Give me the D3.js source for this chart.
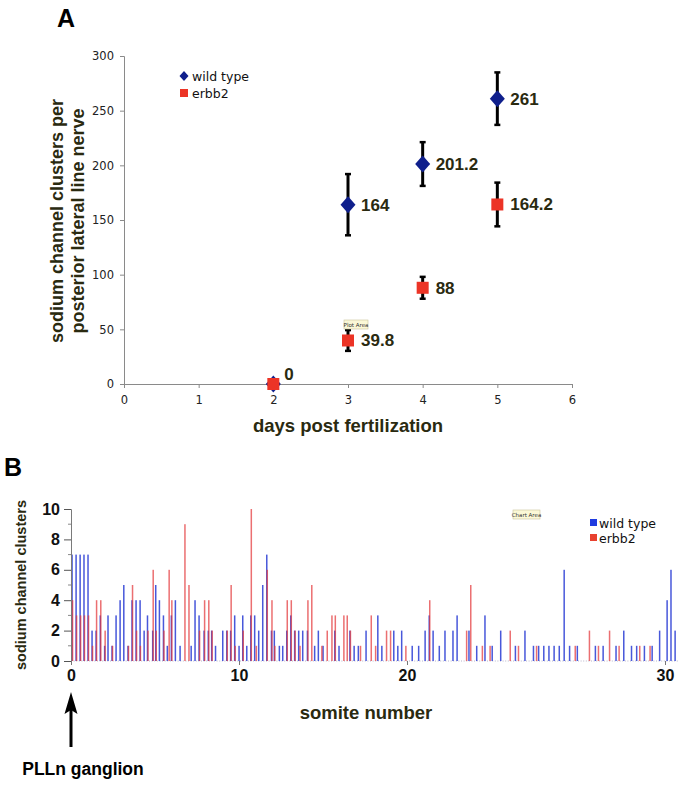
<!DOCTYPE html>
<html><head><meta charset="utf-8">
<script src="https://cdn.jsdelivr.net/npm/d3@7/dist/d3.min.js"></script>
<style>body{margin:0;background:#fff}</style>
</head><body>
<svg id="c" width="685" height="785"></svg>
<script>
// ---------- Panel A data ----------
const days = [2, 3, 4, 5];
const wildTypeMean = [0, 164, 201.2, 261];
const wildTypeErr = [0, 28, 20, 24];
const erbb2Mean = [0, 39.8, 88, 164.2];
const erbb2Err = [0, 9.5, 10, 20];
const xTicksA = [0, 1, 2, 3, 4, 5, 6];
const yTicksA = [0, 50, 100, 150, 200, 250, 300];

// ---------- Panel B data ----------
const wtSomite = [0.06,0.30,0.54,0.77,1.01,1.25,1.49,1.74,2.0,2.2,2.44,2.68,2.92,3.14,3.39,3.63,3.87,4.11,4.35,4.55,4.86,5.04,5.26,5.5,5.73,5.97,6.21,6.49,7.15,7.38,7.62,7.92,8.17,8.37,8.6,9.03,9.27,9.5,9.74,10.0,10.22,10.46,10.7,10.93,11.17,11.41,11.65,11.93,12.1,12.4,12.6,12.84,13.08,13.31,13.55,13.79,14.07,14.5,14.72,15.0,15.7,15.95,16.6,16.85,17.1,17.56,18.26,18.5,19.21,19.45,19.68,20.2,20.45,20.7,20.86,21.01,21.25,21.47,21.78,21.94,22.4,22.7,23.02,23.3,23.63,24.2,24.57,24.9,25.1,25.3,25.5,25.7,25.9,26.09,26.3,26.6,27.3,27.6,28.1,28.4,28.7,28.9,29.2,29.5,29.79,30.08,30.23,30.39];
const wtCount = [7,7,7,7,7,2,2,3,1,3,1,3,4,5,1,4,4,4,2,3,2,5,4,3,1,3,4,1,1,4,3,2,2,2,1,2,2,2,3,1,3,1,3,3,2,5,7,2,2,1,1,2,3,2,2,2,2,1,2,1,2,1,2,1,1,2,3,1,2,1,2,1,1,2,3,2,1,2,2,3,2,1,3,1,2,1,2,1,1,1,1,1,1,6,1,1,1,1,1,2,1,1,1,1,2,4,6,2];
const erSomite = [0.06,0.30,0.54,0.77,1.01,1.25,1.49,1.74,2.0,2.44,3.39,3.63,3.87,4.1,4.55,4.86,5.04,5.5,5.81,5.97,6.75,6.99,7.62,7.92,8.17,8.37,9.27,9.5,9.74,10.22,10.7,11.0,11.65,11.93,12.1,12.84,13.08,13.31,13.6,14.07,14.3,14.9,15.22,15.5,15.7,16.21,16.41,16.6,17.2,17.84,18.1,18.75,18.99,19.9,20.86,22.29,22.45,22.9,23.2,23.98,24.3,25.0,26.5,27.05,27.4,27.83,28.2,29.0,29.4];
const erCount = [4,3,3,3,3,1,4,4,2,1,1,5,2,1,2,6,2,2,6,4,9,5,2,4,4,2,2,5,1,2,10,1,6,4,1,4,4,2,1,4,5,1,2,3,3,3,3,2,1,3,1,2,2,1,4,2,5,1,1,2,1,1,1,2,1,2,1,1,1];
const xTicksB = [0, 10, 20, 30];
const yTicksB = [0, 2, 4, 6, 8, 10];
const yMinorB = [1, 3, 5, 7, 9];

const svg = d3.select('#c');
const olive = '#2a2a10';
const navy = '#0f1f8c';
const red = '#ec3426';
const ARIAL = 'Liberation Sans, Arial, sans-serif';
const VERD = 'DejaVu Sans, Verdana, sans-serif';

// ================= Panel A =================
svg.append('text').attr('x', 57).attr('y', 27).text('A')
  .attr('font-family', ARIAL).attr('font-weight', 'bold').attr('font-size', 25).attr('fill', '#000');

const xA = d3.scaleLinear().domain([0, 6]).range([124, 572]);
const yA = d3.scaleLinear().domain([0, 300]).range([384, 56]);

const axA = svg.append('g').attr('transform', 'translate(0,384)')
  .call(d3.axisBottom(xA).tickValues(xTicksA).tickSize(4).tickPadding(8).tickFormat(d3.format('d')));
const ayA = svg.append('g').attr('transform', 'translate(124,0)')
  .call(d3.axisLeft(yA).tickValues(yTicksA).tickSize(4).tickPadding(6).tickFormat(d3.format('d')));
[axA, ayA].forEach(g => {
  g.select('.domain').attr('stroke', '#8a8a8a');
  g.selectAll('.tick line').attr('stroke', '#8a8a8a');
  g.selectAll('.tick text').attr('font-family', VERD).attr('font-size', 11.5).attr('fill', '#222');
});

// axis titles
svg.append('text').attr('x', 348).attr('y', 432).attr('text-anchor', 'middle')
  .attr('font-family', ARIAL).attr('font-weight', 'bold').attr('font-size', 18.5).attr('fill', olive)
  .text('days post fertilization');
const yt = svg.append('text').attr('transform', 'translate(63,221) rotate(-90)').attr('text-anchor', 'middle')
  .attr('font-family', ARIAL).attr('font-weight', 'bold').attr('font-size', 18).attr('fill', olive);
yt.append('tspan').attr('x', 0).attr('dy', 0).text('sodium channel clusters per');
yt.append('tspan').attr('x', 0).attr('dy', 21).text('posterior lateral line nerve');

// error bars
function errBars(mean, err) {
  const g = svg.append('g');
  days.forEach((d, i) => {
    if (err[i] <= 0) return;
    const x = xA(d);
    g.append('line').attr('x1', x).attr('x2', x).attr('y1', yA(mean[i] + err[i])).attr('y2', yA(mean[i] - err[i]))
      .attr('stroke', '#000').attr('stroke-width', 3);
    [mean[i] + err[i], mean[i] - err[i]].forEach(v => {
      g.append('line').attr('x1', x - 3).attr('x2', x + 3).attr('y1', yA(v)).attr('y2', yA(v))
        .attr('stroke', '#000').attr('stroke-width', 2.5);
    });
  });
}
errBars(wildTypeMean, wildTypeErr);
errBars(erbb2Mean, erbb2Err);

// markers
svg.append('g').selectAll('path').data(days).join('path')
  .attr('d', 'M0,-8.5L7.5,0L0,8.5L-7.5,0Z')
  .attr('transform', (d, i) => `translate(${xA(d)},${yA(wildTypeMean[i])})`)
  .attr('fill', navy);
svg.append('g').selectAll('rect').data(days).join('rect')
  .attr('x', d => xA(d) - 6).attr('y', (d, i) => yA(erbb2Mean[i]) - 6)
  .attr('width', 12).attr('height', 12).attr('fill', red);

// data labels
function labels(mean, skipZero, dyZero) {
  days.forEach((d, i) => {
    if (mean[i] === 0 && skipZero) return;
    const up = mean[i] === 0 ? dyZero : 0;
    svg.append('text').attr('x', xA(d) + (mean[i] === 0 ? 11 : 13)).attr('y', yA(mean[i]) + 6 + up)
      .attr('font-family', ARIAL).attr('font-weight', 'bold').attr('font-size', 17).attr('fill', olive)
      .text(String(mean[i]));
  });
}
labels(wildTypeMean, true, 0);
labels(erbb2Mean, false, -10);

// legend A
svg.append('path').attr('d', 'M0,-5L4.5,0L0,5L-4.5,0Z').attr('transform', 'translate(184,76)').attr('fill', navy);
svg.append('text').attr('x', 192).attr('y', 80.5).text('wild type')
  .attr('font-family', VERD).attr('font-size', 12.5).attr('fill', '#111');
svg.append('rect').attr('x', 180).attr('y', 89).attr('width', 8).attr('height', 8).attr('fill', red);
svg.append('text').attr('x', 192).attr('y', 98).text('erbb2')
  .attr('font-family', VERD).attr('font-size', 12.5).attr('fill', '#111');

// tooltip artefacts
function tip(x, y, w, txt) {
  svg.append('rect').attr('x', x).attr('y', y).attr('width', w).attr('height', 9)
    .attr('fill', '#fbf8d6').attr('stroke', '#c9c39a').attr('stroke-width', 0.6);
  svg.append('text').attr('x', x + w / 2).attr('y', y + 6.5).attr('text-anchor', 'middle')
    .attr('font-family', VERD).attr('font-size', 5.5).attr('fill', '#333').text(txt);
}
tip(344, 320, 24, 'Plot Area');

// ================= Panel B =================
svg.append('text').attr('x', 4).attr('y', 476).text('B')
  .attr('font-family', ARIAL).attr('font-weight', 'bold').attr('font-size', 25).attr('fill', '#000');

const xB = d3.scaleLinear().domain([0, 10, 20, 30]).range([71, 239, 407, 665]);
const yB = d3.scaleLinear().domain([0, 10]).range([661, 509]);

// baseline (dotted)
svg.append('line').attr('x1', 71).attr('x2', 679).attr('y1', yB(0)).attr('y2', yB(0))
  .attr('stroke', '#b9b6cc').attr('stroke-width', 1.2).attr('stroke-dasharray', '1,1.6');

// bars: wild type then erbb2 (semi-transparent)
svg.append('g').selectAll('rect').data(wtSomite).join('rect')
  .attr('x', d => xB(d) - 0.7).attr('width', 1.5)
  .attr('y', (d, i) => yB(wtCount[i])).attr('height', (d, i) => yB(0) - yB(wtCount[i]))
  .attr('fill', '#3446d6').attr('opacity', 0.9);
svg.append('g').selectAll('rect').data(erSomite).join('rect')
  .attr('x', d => xB(d) - 0.2).attr('width', 1.5)
  .attr('y', (d, i) => yB(erCount[i])).attr('height', (d, i) => yB(0) - yB(erCount[i]))
  .attr('fill', '#e3383a').attr('opacity', 0.72);

// y axis B
const ayB = svg.append('g').attr('transform', 'translate(71,0)')
  .call(d3.axisLeft(yB).tickValues(yTicksB).tickSize(7).tickPadding(4).tickFormat(d3.format('d')));
ayB.select('.domain').attr('stroke', '#7a7a7a');
ayB.selectAll('.tick line').attr('stroke', '#555');
ayB.selectAll('.tick text').attr('font-family', ARIAL).attr('font-weight', 'bold')
  .attr('font-size', 16).attr('fill', '#111');
svg.append('g').selectAll('line').data(yMinorB).join('line')
  .attr('x1', 68).attr('x2', 71).attr('y1', d => yB(d)).attr('y2', d => yB(d)).attr('stroke', '#888');

// x axis B labels
const axB = svg.append('g').attr('transform', 'translate(0,661)')
  .call(d3.axisBottom(xB).tickValues(xTicksB).tickSize(4).tickPadding(5).tickFormat(d3.format('d')));
axB.select('.domain').remove();
axB.selectAll('.tick line').attr('stroke', '#777');
axB.selectAll('.tick text').attr('font-family', ARIAL).attr('font-weight', 'bold')
  .attr('font-size', 16).attr('fill', '#111');

svg.append('text').attr('x', 366).attr('y', 719).attr('text-anchor', 'middle')
  .attr('font-family', ARIAL).attr('font-weight', 'bold').attr('font-size', 18.5).attr('fill', olive)
  .text('somite number');
svg.append('text').attr('transform', 'translate(26,585) rotate(-90)').attr('text-anchor', 'middle')
  .attr('font-family', ARIAL).attr('font-weight', 'bold').attr('font-size', 14.5).attr('fill', olive)
  .text('sodium channel clusters');

// arrow + PLLn ganglion
svg.append('line').attr('x1', xB(0)).attr('x2', xB(0)).attr('y1', 747).attr('y2', 708).attr('stroke', '#000').attr('stroke-width', 3);
svg.append('path').attr('d', `M${xB(0)},692L${xB(0) + 6.5},714L${xB(0)},710L${xB(0) - 6.5},714Z`).attr('fill', '#000');
svg.append('text').attr('x', 83).attr('y', 775).attr('text-anchor', 'middle')
  .attr('font-family', ARIAL).attr('font-weight', 'bold').attr('font-size', 17.5).attr('fill', '#000')
  .text('PLLn ganglion');

// legend B
svg.append('rect').attr('x', 590).attr('y', 519).attr('width', 7).attr('height', 7).attr('fill', '#1f3be0');
svg.append('text').attr('x', 599).attr('y', 527.5).text('wild type')
  .attr('font-family', VERD).attr('font-size', 12.5).attr('fill', '#111');
svg.append('rect').attr('x', 590).attr('y', 534).attr('width', 7).attr('height', 7).attr('fill', '#e8412f');
svg.append('text').attr('x', 599).attr('y', 542.5).text('erbb2')
  .attr('font-family', VERD).attr('font-size', 12.5).attr('fill', '#111');

tip(513, 510, 27, 'Chart Area');
</script>
</body></html>
